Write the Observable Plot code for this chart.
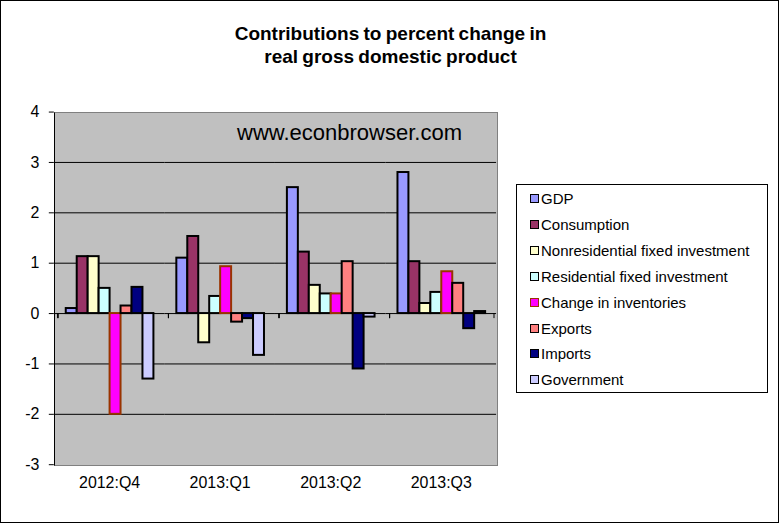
<!DOCTYPE html>
<html><head><meta charset="utf-8">
<script src="https://cdn.jsdelivr.net/npm/d3@7"></script>
<script src="https://cdn.jsdelivr.net/npm/@observablehq/plot@0.6"></script>
<style>
body{margin:0;background:#fff;}
#wrap{position:relative;width:779px;height:523px;box-sizing:border-box;border:1px solid #000;overflow:hidden;font-family:"Liberation Sans",Arial,sans-serif;}
#plotbg{position:absolute;left:53px;top:111px;width:444px;height:354px;box-sizing:border-box;background:#c0c0c0;border:1.5px solid #808080;border-left:1.5px solid #000;}
#chart{position:absolute;left:-1px;top:-1px;}
#title{position:absolute;left:0;width:779px;top:21px;text-align:center;font-weight:bold;font-size:19px;line-height:23px;word-spacing:-1px;}
#www{position:absolute;left:236px;top:119px;font-size:22px;}
#legend{position:absolute;left:515px;top:183px;width:252px;height:209px;box-sizing:border-box;border:1px solid #000;background:#fff;}
.item{position:absolute;left:13px;height:18px;font-size:15px;line-height:18px;white-space:nowrap;}
.sw{display:inline-block;width:7px;height:7px;border:1.5px solid #000;margin-right:2px;vertical-align:1px;}
</style></head>
<body>
<div id="wrap">
  <div id="title">Contributions to percent change in<br>real gross domestic product</div>
  <div id="plotbg"></div>
  <div id="chart"></div>
  <div id="www">www.econbrowser.com</div>
  <div id="legend"></div>
</div>
<script>
const quarters = ["2012:Q4", "2013:Q1", "2013:Q2", "2013:Q3"];
const series = ["GDP", "Consumption", "Nonresidential fixed investment", "Residential fixed investment",
  "Change in inventories", "Exports", "Imports", "Government"];
const fills = ["#9999ff", "#993366", "#ffffcc", "#ccffff", "#ff00ff", "#ff8080", "#000080", "#ccccff"];
const strokes = ["#000", "#000", "#000", "#000", "#993300", "#000", "#000", "#000"];

const gdp          = [0.1, 1.1, 2.5, 2.8];
const consumption  = [1.13, 1.53, 1.22, 1.03];
const nonres       = [1.13, -0.58, 0.56, 0.2];
const residential  = [0.5, 0.34, 0.39, 0.42];
const inventories  = [-2.0, 0.93, 0.39, 0.83];
const exportsV     = [0.15, -0.17, 1.03, 0.6];
const importsV     = [0.52, -0.1, -1.1, -0.3];
const government   = [-1.3, -0.83, -0.07, 0.04];

const yTicks = [-3, -2, -1, 0, 1, 2, 3, 4];
const yGrid = [-2, -1, 0, 1, 2, 3];

const valuesBySeries = [gdp, consumption, nonres, residential, inventories, exportsV, importsV, government];
const data = [];
quarters.forEach((q, qi) => series.forEach((s, si) => data.push({quarter: q, series: s, value: valuesBySeries[si][qi], stroke: strokes[si]})));

const padOuter = 0.67;
const facetW = 444 / quarters.length;
const step = facetW / (series.length + 2 * padOuter);
const edge = padOuter * step + step / 2;

const edgeData = quarters.map(q => ({quarter: q}));

const chart = Plot.plot({
  width: 781, height: 525,
  marginLeft: 54, marginRight: 283, marginTop: 112, marginBottom: 59,
  style: {background: "transparent", fontFamily: "'Liberation Sans', Arial, sans-serif", fontSize: "16px", color: "#000"},
  fx: {domain: quarters, padding: 0, label: null, axis: "bottom", tickSize: 0, tickPadding: 12},
  x: {domain: series, paddingInner: 0, paddingOuter: padOuter, axis: null},
  y: {domain: [-3, 4], ticks: yTicks, tickSize: 5, tickPadding: 10, label: null, tickFormat: d => String(d)},
  color: {domain: series, range: fills},
  facet: {data: data, x: "quarter"},
  marks: [
    Plot.ruleY(yGrid, {stroke: "#000", strokeWidth: 1, facet: false}),
    Plot.barY(data, {x: "series", y: "value", fill: "series", stroke: "stroke", strokeWidth: 2}),
    Plot.ruleX(edgeData, {fx: "quarter", x: () => series[0], dx: -edge, y1: 0, y2: -0.1, stroke: "#000", facet: "exclude"}),
    Plot.ruleX(edgeData.filter(d => d.quarter === quarters[quarters.length - 1]), {fx: "quarter", x: () => series[series.length - 1], dx: edge, y1: 0, y2: -0.1, stroke: "#000"})
  ]
});
document.getElementById("chart").appendChild(chart);

const legend = document.getElementById("legend");
series.forEach((s, i) => {
  const d = document.createElement("div");
  d.className = "item";
  d.style.top = (5 + i * 25.9) + "px";
  d.innerHTML = `<span class="sw" style="background:${fills[i]};border-color:${strokes[i]}"></span>${s}`;
  legend.appendChild(d);
});
</script>
</body></html>
